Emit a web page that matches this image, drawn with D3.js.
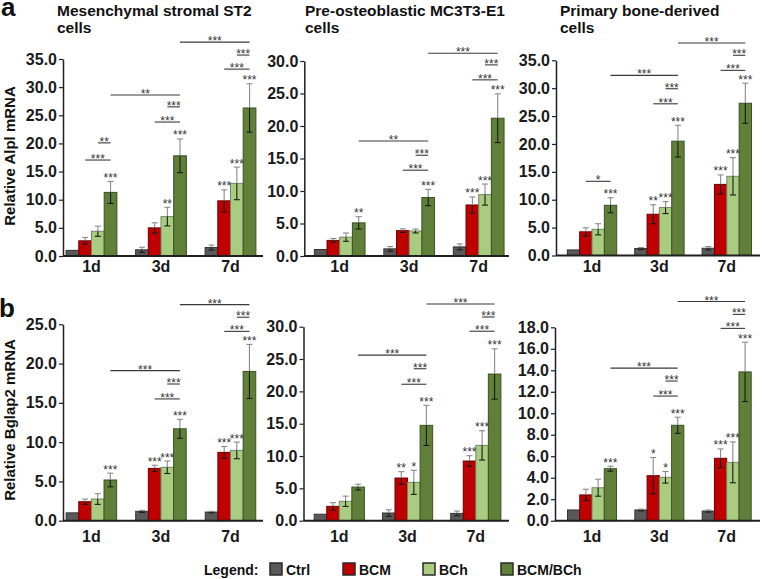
<!DOCTYPE html>
<html><head><meta charset="utf-8">
<script src="https://cdn.jsdelivr.net/npm/d3@7"></script>
<style>
body{margin:0;background:#fff}
text{font-family:Arial,"Liberation Sans",sans-serif}
</style>
</head><body>
<svg id="c" width="762" height="579" xmlns="http://www.w3.org/2000/svg"></svg>
<script>
// ---------- data ----------
const days = ["1d", "3d", "7d"];
const series = ["Ctrl", "BCM", "BCh", "BCM/BCh"];
const seriesFill = ["#595959", "#c00000", "#a9cc80", "#60803a"];
const seriesStroke = ["#333333", "#6e0000", "#75866a", "#3a5222"];

const panelTitles = [["Mesenchymal stromal ST2", "cells"], ["Pre-osteoblastic MC3T3-E1", "cells"], ["Primary bone-derived", "cells"]];
const rowLabels = ["Relative Alpl mRNA", "Relative Bglap2 mRNA"];
const rowLetters = ["a", "b"];

// Alpl, ST2
const st2AlplMean = [[1.0, 2.7, 4.4, 11.3], [1.1, 5.0, 7.0, 17.8], [1.5, 9.8, 12.9, 26.3]];
const st2AlplErr  = [[0, 0.6, 0.9, 1.95], [0.45, 0.9, 1.65, 3.0], [0.45, 1.95, 2.9, 4.3]];
const st2AlplSig  = [["", "", "", "***"], ["", "", "**", "***"], ["", "***", "***", "***"]];
const st2AlplBrackets = [[0,1,0,3,"***",17.05],[0,2,0,3,"**",20.1],[1,1,1,3,"***",23.8],[1,2,1,3,"***",26.5],[0,3,1,3,"**",28.6],[2,1,2,3,"***",33.2],[2,2,2,3,"***",35.7],[1,3,2,3,"***",38.0]];

// Alpl, MC3T3-E1
const mc3AlplMean = [[1.0, 2.4, 2.9, 5.1], [1.1, 3.9, 3.85, 9.0], [1.4, 7.85, 9.45, 21.2]];
const mc3AlplErr  = [[0, 0.3, 0.64, 0.95], [0.36, 0.28, 0.3, 1.25], [0.45, 1.23, 1.62, 3.75]];
const mc3AlplSig  = [["", "", "", "**"], ["", "", "", "***"], ["", "***", "***", "***"]];
const mc3AlplBrackets = [[1,1,1,3,"***",13.2],[1,2,1,3,"***",15.5],[0,3,1,3,"**",17.7],[2,1,2,3,"***",27.1],[2,2,2,3,"***",29.4],[1,3,2,3,"***",31.2]];

// Alpl, primary
const priAlplMean = [[1.0, 4.25, 4.7, 9.0], [1.25, 7.4, 8.6, 20.5], [1.3, 12.75, 14.2, 27.3]];
const priAlplErr  = [[0, 0.72, 1.0, 1.35], [0.18, 1.7, 1.08, 2.85], [0.3, 1.7, 3.35, 3.6]];
const priAlplSig  = [["", "", "", "***"], ["", "**", "***", "***"], ["", "***", "***", "***"]];
const priAlplBrackets = [[0,1,0,3,"*",13.3],[1,1,1,3,"***",27.2],[1,2,1,3,"***",29.9],[0,3,1,3,"***",32.3],[2,1,2,3,"***",33.2],[2,2,2,3,"***",35.9],[1,3,2,3,"***",38.1]];

// Bglap2, ST2
const st2BglapMean = [[1.0, 2.42, 2.76, 5.18], [1.19, 6.66, 6.8, 11.7], [1.1, 8.7, 8.95, 19.0]];
const st2BglapErr  = [[0, 0.34, 0.68, 0.87], [0.13, 0.4, 0.79, 1.2], [0.1, 0.74, 1.06, 3.44]];
const st2BglapSig  = [["", "", "", "***"], ["", "***", "***", "***"], ["", "***", "***", "***"]];
const st2BglapBrackets = [[1,1,1,3,"***",15.5],[1,2,1,3,"***",17.4],[0,3,1,3,"***",19.1],[2,1,2,3,"***",24.1],[2,2,2,3,"***",25.9],[1,3,2,3,"***",27.5]];

// Bglap2, MC3T3-E1
const mc3BglapMean = [[1.0, 2.22, 3.0, 5.2], [1.19, 6.6, 5.93, 14.74], [1.13, 9.23, 11.65, 22.68]];
const mc3BglapErr  = [[0, 0.57, 0.8, 0.44], [0.5, 0.98, 1.86, 3.1], [0.36, 0.82, 2.27, 3.9]];
const mc3BglapSig  = [["", "", "", ""], ["", "**", "*", "***"], ["", "***", "***", "***"]];
const mc3BglapBrackets = [[1,1,1,3,"***",21.1],[1,2,1,3,"***",23.5],[0,3,1,3,"***",25.6],[2,1,2,3,"***",29.3],[2,2,2,3,"***",31.5],[1,3,2,3,"***",33.5]];

// Bglap2, primary
const priBglapMean = [[1.0, 2.4, 3.07, 4.84], [1.0, 4.19, 4.04, 8.88], [0.9, 5.81, 5.43, 13.85]];
const priBglapErr  = [[0, 0.53, 0.79, 0.23], [0.08, 1.69, 0.54, 0.75], [0.1, 0.87, 1.9, 2.76]];
const priBglapSig  = [["", "", "", "***"], ["", "*", "*", "***"], ["", "***", "***", "***"]];
const priBglapBrackets = [[1,1,1,3,"***",11.6],[1,2,1,3,"***",13.0],[0,3,1,3,"***",14.2],[2,1,2,3,"***",17.9],[2,2,2,3,"***",19.2],[1,3,2,3,"***",20.4]];

const yMaxima = [35, 30, 35, 25, 30, 18];
const yTickSteps = [5, 5, 5, 5, 5, 2];

// ---------- layout ----------
const layout = [
  {left:63,   right:263, top:59,    zero:256,   c0:91.5,  c2:230.5, gw:50.8},
  {left:304.3,right:509, top:61,    zero:256,   c0:339.7, c2:478.7, gw:50.7},
  {left:556,  right:760, top:60.3,  zero:255.5, c0:592,   c2:726.8, gw:49.4},
  {left:63,   right:263, top:324.3, zero:520.7, c0:91.4,  c2:230.5, gw:50.5},
  {left:303.5,right:509, top:326.7, zero:520.7, c0:339.3, c2:475.8, gw:50.2},
  {left:555,  right:760, top:327.3, zero:520.7, c0:592,   c2:726.7, gw:49}
];
const panelData = [
  [st2AlplMean, st2AlplErr, st2AlplSig, st2AlplBrackets],
  [mc3AlplMean, mc3AlplErr, mc3AlplSig, mc3AlplBrackets],
  [priAlplMean, priAlplErr, priAlplSig, priAlplBrackets],
  [st2BglapMean, st2BglapErr, st2BglapSig, st2BglapBrackets],
  [mc3BglapMean, mc3BglapErr, mc3BglapSig, mc3BglapBrackets],
  [priBglapMean, priBglapErr, priBglapSig, priBglapBrackets]
];

const svg = d3.select("#c");
const axisColor = "#1f1f1f";

panelData.forEach(([means, errs, sigs, brackets], p) => {
  const L = layout[p];
  const g = svg.append("g");
  const y = d3.scaleLinear().domain([0, yMaxima[p]]).range([L.zero, L.top]);
  const xc = d3.scalePoint().domain(days).range([L.c0, L.c2]);
  const xi = d3.scaleBand().domain(series).range([-L.gw/2, L.gw/2]).padding(0);
  const bw = xi.bandwidth();
  const barCx = (di, si) => xc(days[di]) + xi(series[si]) + bw/2;

  // bars
  const flat = [];
  means.forEach((row, di) => row.forEach((v, si) => flat.push({di, si, v, e: errs[di][si], s: sigs[di][si]})));
  g.selectAll("rect.bar").data(flat).join("rect")
    .attr("x", d => xc(days[d.di]) + xi(series[d.si]))
    .attr("y", d => y(d.v))
    .attr("width", bw)
    .attr("height", d => y(0) - y(d.v))
    .attr("fill", d => seriesFill[d.si])
    .attr("stroke", d => seriesStroke[d.si])
    .attr("stroke-width", 1);

  // error bars
  const eb = flat.filter(d => d.e > 0);
  const capW = 3;
  g.selectAll("line.eu").data(eb).join("line")
    .attr("x1", d => barCx(d.di, d.si)).attr("x2", d => barCx(d.di, d.si))
    .attr("y1", d => y(d.v)).attr("y2", d => y(d.v + d.e))
    .attr("stroke", "#8a8a8a").attr("stroke-width", 1.1);
  g.selectAll("line.euc").data(eb).join("line")
    .attr("x1", d => barCx(d.di, d.si) - capW).attr("x2", d => barCx(d.di, d.si) + capW)
    .attr("y1", d => y(d.v + d.e)).attr("y2", d => y(d.v + d.e))
    .attr("stroke", "#8a8a8a").attr("stroke-width", 1.1);
  g.selectAll("line.el").data(eb).join("line")
    .attr("x1", d => barCx(d.di, d.si)).attr("x2", d => barCx(d.di, d.si))
    .attr("y1", d => y(d.v)).attr("y2", d => y(d.v - d.e))
    .attr("stroke", "#1a1a1a").attr("stroke-width", 1.1);
  g.selectAll("line.elc").data(eb).join("line")
    .attr("x1", d => barCx(d.di, d.si) - capW).attr("x2", d => barCx(d.di, d.si) + capW)
    .attr("y1", d => y(d.v - d.e)).attr("y2", d => y(d.v - d.e))
    .attr("stroke", "#1a1a1a").attr("stroke-width", 1.1);

  // significance labels on bars
  g.selectAll("text.sig").data(flat.filter(d => d.s)).join("text")
    .attr("x", d => barCx(d.di, d.si))
    .attr("y", d => y(d.v + d.e) + 0.5)
    .attr("text-anchor", "middle")
    .attr("font-size", "12px")
    .attr("fill", "#333")
    .text(d => d.s);

  // brackets
  g.selectAll("line.br").data(brackets).join("line")
    .attr("x1", d => barCx(d[0], d[1])).attr("x2", d => barCx(d[2], d[3]))
    .attr("y1", d => y(d[5])).attr("y2", d => y(d[5]))
    .attr("stroke", "#3a3a3a").attr("stroke-width", 1.1);
  g.selectAll("text.br").data(brackets).join("text")
    .attr("x", d => (barCx(d[0], d[1]) + barCx(d[2], d[3])) / 2)
    .attr("y", d => y(d[5]) + 3)
    .attr("text-anchor", "middle")
    .attr("font-size", "12px")
    .attr("fill", "#333")
    .text(d => d[4]);

  // y axis
  const ya = g.append("g").attr("transform", `translate(${L.left},0)`)
    .call(d3.axisLeft(y)
      .tickValues(d3.range(0, yMaxima[p] + yTickSteps[p] / 2, yTickSteps[p]))
      .tickFormat(d3.format(".1f"))
      .tickSize(4).tickSizeOuter(0).tickPadding(2));
  ya.select(".domain").attr("stroke", axisColor).attr("stroke-width", 1.5);
  ya.selectAll(".tick line").attr("stroke", axisColor).attr("stroke-width", 1.2);
  ya.selectAll(".tick text").attr("font-size", "16px").attr("font-weight", "bold")
    .attr("fill", "#1a1a1a").attr("font-family", "Arial, 'Liberation Sans', sans-serif");

  // x axis line
  g.append("line").attr("x1", L.left).attr("x2", L.right)
    .attr("y1", y(0)).attr("y2", y(0))
    .attr("stroke", axisColor).attr("stroke-width", 2);

  // category labels
  g.selectAll("text.cat").data(days).join("text")
    .attr("x", d => xc(d))
    .attr("y", p < 3 ? 272 : 541.5)
    .attr("text-anchor", "middle")
    .attr("font-size", "16px").attr("font-weight", "bold").attr("fill", "#1a1a1a")
    .text(d => d);
});

// panel titles
const titleX = [57, 305, 560];
panelTitles.forEach((lines, i) => {
  lines.forEach((t, j) => {
    svg.append("text").attr("x", titleX[i]).attr("y", 15.5 + j * 17.5)
      .attr("font-size", "15.5px").attr("font-weight", "bold").attr("fill", "#111")
      .text(t);
  });
});

// row letters and y titles
const letterY = [16, 316.5];
const ytitleY = [156, 420];
rowLetters.forEach((l, i) => {
  svg.append("text").attr("x", i === 0 ? 1 : -1).attr("y", letterY[i])
    .attr("font-size", "26px").attr("font-weight", "bold").attr("fill", "#111").text(l);
  svg.append("text").attr("transform", `translate(15,${ytitleY[i]}) rotate(-90)`)
    .attr("text-anchor", "middle")
    .attr("font-size", "15px").attr("font-weight", "bold").attr("fill", "#111")
    .text(rowLabels[i]);
});

// legend
const lg = svg.append("g");
lg.append("text").attr("x", 204).attr("y", 574.5).attr("font-size", "14px")
  .attr("font-weight", "bold").attr("fill", "#111").text("Legend:");
const legX = [270, 343, 423, 501];
series.forEach((s, i) => {
  lg.append("rect").attr("x", legX[i]).attr("y", 563).attr("width", 12).attr("height", 12)
    .attr("fill", seriesFill[i]).attr("stroke", "#2a2a2a").attr("stroke-width", 1.5);
  lg.append("text").attr("x", legX[i] + 16).attr("y", 574.5).attr("font-size", "14px")
    .attr("font-weight", "bold").attr("fill", "#111").text(s);
});
</script>
</body></html>
